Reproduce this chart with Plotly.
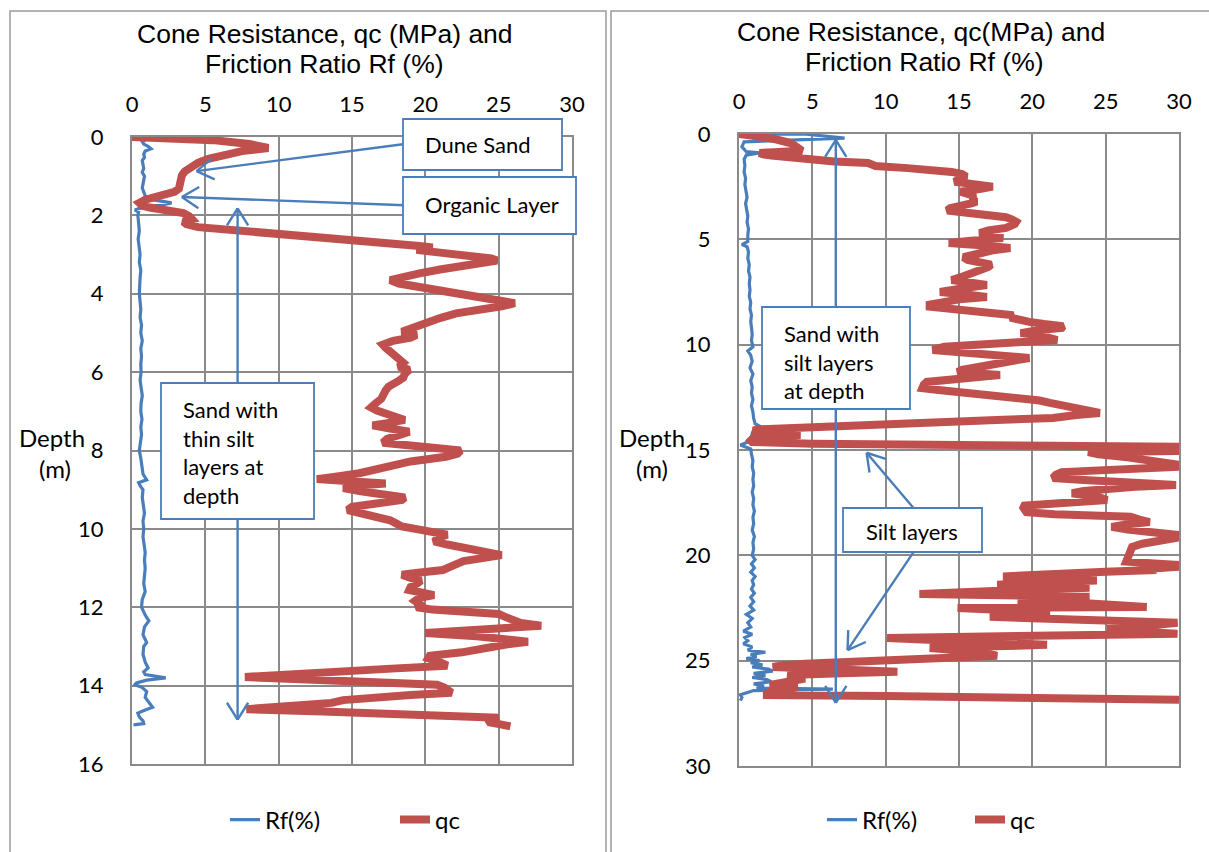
import math
import plotly.graph_objects as go

# ---------------- data ----------------
left_qc_depth = [0.00, 0.03, 0.08, 0.18, 0.28, 0.36, 0.46, 0.56, 0.66, 0.76, 0.88, 0.98, 1.10, 1.22, 1.32, 1.40,
                 1.47, 1.53, 1.60, 1.68, 1.75, 1.80, 1.86, 1.94, 2.02, 2.10, 2.16, 2.22, 2.30, 2.40, 2.50, 2.60,
                 2.70, 2.78, 2.82, 2.88, 2.95, 3.02, 3.10, 3.15, 3.22, 3.28, 3.38, 3.48, 3.57, 3.65, 3.74, 3.82,
                 3.92, 4.02, 4.10, 4.18, 4.24, 4.32, 4.40, 4.50, 4.62, 4.75, 4.88, 4.97, 5.05, 5.12, 5.20, 5.30,
                 5.38, 5.48, 5.56, 5.66, 5.76, 5.86, 5.94, 6.04, 6.14, 6.22, 6.30, 6.37, 6.46, 6.58, 6.68, 6.80,
                 6.90, 6.98, 7.06, 7.15, 7.22, 7.30, 7.36, 7.44, 7.52, 7.60, 7.70, 7.80, 7.86, 7.92, 8.00, 8.08,
                 8.16, 8.28, 8.40, 8.50, 8.58, 8.66, 8.73, 8.78, 8.84, 8.90, 8.96, 9.04, 9.12, 9.20, 9.26, 9.34,
                 9.44, 9.52, 9.60, 9.70, 9.78, 9.86, 9.94, 10.02, 10.10, 10.15, 10.22, 10.32, 10.40, 10.50, 10.60,
                 10.67, 10.74, 10.82, 10.95, 11.05, 11.12, 11.17, 11.25, 11.32, 11.38, 11.48, 11.56, 11.62, 11.69,
                 11.76, 11.84, 11.92, 12.00, 12.06, 12.12, 12.17, 12.24, 12.32, 12.40, 12.47, 12.54, 12.60, 12.66,
                 12.74, 12.82, 12.88, 12.95, 13.05, 13.15, 13.24, 13.30, 13.40, 13.49, 13.56, 13.62, 13.70, 13.78,
                 13.84, 13.90, 13.98, 14.05, 14.12, 14.18, 14.24, 14.30, 14.37, 14.44, 14.50, 14.56, 14.60, 14.66,
                 14.72, 14.78, 14.82, 14.88, 14.94, 15.00, 15.04]
left_qc = [0.0, 2.5, 5.5, 8.0, 9.3, 7.5, 6.0, 5.2, 4.5, 4.0, 3.6, 3.4, 3.3, 3.3, 3.2, 2.9,
           2.1, 1.4, 0.9, 0.5, 0.7, 1.2, 2.6, 3.5, 3.9, 4.1, 3.5, 3.7, 4.5, 8.0, 11.5, 14.5,
           17.5, 19.6, 20.5, 19.4, 21.0, 23.0, 24.5, 24.9, 23.5, 22.5, 21.0, 19.6, 18.2, 17.6, 18.2, 19.5,
           21.0, 22.5, 24.0, 25.5, 26.1, 25.2, 23.8, 22.1, 21.0, 20.0, 19.0, 18.4, 19.4, 19.0, 17.8, 17.1,
           17.3, 17.6, 17.9, 18.3, 18.5, 18.2, 18.9, 18.6, 18.5, 18.2, 17.8, 17.5, 17.3, 17.2, 17.0, 16.6,
           16.3, 16.7, 17.4, 18.3, 18.6, 17.4, 16.4, 17.6, 18.9, 18.3, 17.4, 17.1, 19.0, 21.2, 22.4, 22.2,
           21.4, 19.0, 17.6, 16.6, 15.5, 14.0, 12.6, 14.6, 17.3, 15.2, 14.4, 15.6, 17.5, 18.6, 18.4, 16.6,
           15.0, 14.7, 15.6, 17.1, 17.6, 18.0, 18.4, 19.6, 21.0, 21.5, 20.9, 20.6, 21.5, 23.0, 24.5,
           25.2, 24.0, 22.6, 21.8, 21.2, 19.5, 18.4, 19.0, 19.7, 19.5, 19.0, 18.9, 19.8, 20.6,
           19.6, 19.3, 19.6, 19.4, 20.5, 23.5, 25.0, 25.4, 26.0, 26.5, 27.9, 25.0, 21.5, 20.0,
           23.5, 26.5, 27.0, 25.5, 24.1, 22.5, 20.3, 20.2, 21.0, 21.5, 18.0, 14.7, 11.0, 7.7,
           11.5, 17.0, 20.8, 21.3, 21.5, 21.8, 19.0, 16.5, 14.4, 13.6, 11.5, 9.0, 7.8, 13.0,
           19.5, 24.0, 25.0, 24.3, 24.4, 25.3, 25.8]

left_rf_depth = [0.00, 0.04, 0.08, 0.12, 0.18, 0.24, 0.30, 0.36, 0.44, 0.52, 0.60, 0.70, 0.80, 0.90, 1.00, 1.10,
                 1.20, 1.30, 1.40, 1.50, 1.58, 1.64, 1.68, 1.72, 1.77, 1.82, 1.86, 1.92, 2.00, 2.2, 2.4, 2.6,
                 2.8, 3.0, 3.2, 3.4, 3.6, 3.8, 4.0, 4.2, 4.4, 4.6, 4.8, 5.0, 5.2, 5.4, 5.6, 5.8, 6.0, 6.2,
                 6.4, 6.6, 6.8, 7.0, 7.2, 7.4, 7.6, 7.8, 8.0, 8.2, 8.4, 8.6, 8.75, 8.82, 8.9, 9.0, 9.2, 9.4,
                 9.6, 9.8, 10.0, 10.2, 10.4, 10.6, 10.8, 11.0, 11.2, 11.4, 11.6, 11.8, 12.0, 12.2, 12.35, 12.5,
                 12.7, 12.9, 13.0, 13.2, 13.4, 13.55, 13.65, 13.72, 13.8, 13.86, 13.93, 13.98, 14.05, 14.15,
                 14.3, 14.45, 14.55, 14.62, 14.7, 14.8, 14.9, 14.97, 15.0]
left_rf = [0.0, 0.6, 0.9, 0.7, 0.8, 1.1, 1.3, 0.9, 0.8, 0.85, 0.7, 0.75, 0.8, 0.7, 0.85, 0.8,
           0.75, 0.7, 0.8, 0.9, 1.1, 1.9, 2.7, 2.2, 1.2, 0.5, 0.2, 0.45, 0.4, 0.45, 0.5, 0.42,
           0.5, 0.55, 0.5, 0.6, 0.55, 0.5, 0.5, 0.55, 0.6, 0.55, 0.65, 0.6, 0.7, 0.6, 0.65, 0.6, 0.62, 0.55,
           0.6, 0.7, 0.62, 0.6, 0.68, 0.6, 0.65, 0.6, 0.5, 0.6, 0.65, 0.75, 1.0, 0.45, 0.55, 0.75, 0.7, 0.8,
           0.85, 0.75, 0.8, 0.75, 0.8, 0.9, 0.85, 0.9, 0.85, 0.8, 0.9, 0.7, 0.65, 0.9, 1.15, 0.85,
           0.75, 1.0, 0.8, 0.75, 0.9, 1.1, 0.8, 0.9, 2.3, 1.0, 0.3, 0.2, 0.7, 1.0,
           0.9, 1.2, 1.4, 0.9, 0.4, 0.5, 0.75, 0.8, 0.1]

right_qc_depth = [0.00, 0.06, 0.14, 0.25, 0.35, 0.43, 0.55, 0.67, 0.80, 0.85, 0.90, 0.96, 1.02, 1.12, 1.23, 1.30,
                  1.38, 1.45, 1.52, 1.62, 1.72, 1.80, 1.90, 2.03, 2.15, 2.27, 2.38, 2.50, 2.60, 2.74, 2.85, 2.97,
                  3.10, 3.20, 3.28, 3.40, 3.52, 3.63, 3.74, 3.84, 3.95, 4.05, 4.17, 4.28, 4.38, 4.46, 4.58, 4.70,
                  4.82, 4.94, 5.05, 5.17, 5.28, 5.41, 5.52, 5.65, 5.75, 5.85, 5.98, 6.10, 6.20, 6.31, 6.45, 6.60,
                  6.75, 6.93, 7.05, 7.17, 7.30, 7.42, 7.50, 7.62, 7.74, 7.85, 7.98, 8.10, 8.20, 8.32, 8.42, 8.50,
                  8.60, 8.72, 8.82, 8.92, 9.02, 9.12, 9.20, 9.30, 9.38, 9.45, 9.55, 9.65, 9.78, 9.88, 9.98, 10.10,
                  10.25, 10.38, 10.50, 10.63, 10.75, 10.85, 10.96, 11.08, 11.20, 11.30, 11.38, 11.44, 11.52, 11.62,
                  11.70, 11.77, 11.90, 12.06, 12.15, 12.24, 12.35, 12.45, 12.53, 12.65, 12.76, 12.86, 12.95, 13.05,
                  13.15, 13.24, 13.34, 13.42, 13.48, 13.56, 13.64, 13.72, 13.81, 13.86, 13.90, 13.96, 14.02, 14.07,
                  14.15, 14.22, 14.29, 14.34, 14.40, 14.48, 14.55, 14.62, 14.70, 14.76, 14.80, 14.85, 14.95, 15.05,
                  15.10, 15.20, 15.35, 15.55, 15.70, 15.80, 15.88, 15.95, 16.05, 16.18, 16.33, 16.42, 16.50, 16.58,
                  16.66, 16.75, 16.85, 16.95, 17.05, 17.15, 17.25, 17.37, 17.45, 17.55, 17.65, 17.75, 17.85, 17.95,
                  18.05, 18.12, 18.17, 18.30, 18.42, 18.52, 18.65, 18.78, 18.90, 19.03, 19.17, 19.30, 19.45, 19.60,
                  19.74, 19.89, 20.05, 20.20, 20.30, 20.45, 20.55, 20.62, 20.70, 20.78, 20.86, 20.93, 21.00, 21.08,
                  21.15, 21.20, 21.28, 21.35, 21.40, 21.47, 21.54, 21.62, 21.70, 21.78, 21.83, 21.90, 21.97, 22.05,
                  22.12, 22.20, 22.30, 22.38, 22.45, 22.48, 22.50, 22.56, 22.62, 22.68, 22.73, 22.80, 22.86, 22.92,
                  23.00, 23.08, 23.14, 23.20, 23.30, 23.40, 23.50, 23.58, 23.66, 23.72, 23.78, 23.84, 23.92, 24.00,
                  24.08, 24.15, 24.25, 24.32, 24.40, 24.48, 24.56, 24.65, 24.77, 24.85, 24.95, 25.05, 25.15, 25.22,
                  25.30, 25.38, 25.45, 25.53, 25.60, 25.68, 25.76, 25.85, 25.95, 26.05, 26.15, 26.25, 26.33, 26.40,
                  26.48, 26.58, 26.63, 26.68, 26.72, 26.77, 26.85]
right_qc = [0.0, 1.0, 1.6, 2.5, 3.2, 3.5, 3.8, 4.0, 4.3, 2.7, 1.4, 1.6, 2.2, 3.5, 4.6, 6.5,
            8.8, 9.1, 9.3, 11.5, 13.5, 14.5, 15.2, 15.5, 15.0, 14.7, 16.0, 17.3, 16.5, 15.1, 15.6, 16.1,
            15.8, 16.2, 15.9, 15.0, 14.4, 14.2, 15.6, 17.2, 18.2, 18.6, 18.9, 18.8, 18.5, 18.2, 17.0, 16.4,
            17.3, 18.0, 16.0, 14.3, 16.5, 18.5, 17.3, 16.2, 15.6, 15.3, 15.6, 16.6, 17.2, 17.0, 16.5, 16.2,
            15.3, 14.5, 15.8, 16.9, 15.5, 14.2, 13.7, 15.5, 16.9, 15.0, 13.6, 13.0, 13.0, 15.0, 17.0, 18.3,
            18.7, 18.5, 19.0, 19.8, 20.8, 22.1, 22.0, 20.5, 19.5, 19.2, 20.5, 21.3, 21.7, 19.0, 16.5, 14.0,
            13.2, 15.5, 18.0, 19.8, 18.8, 17.8, 17.1, 16.0, 15.2, 14.9, 16.2, 17.8, 16.5, 14.2,
            13.0, 12.8, 12.6, 12.5, 13.6, 14.9, 16.5, 18.2, 19.4, 20.5, 21.2, 21.9, 22.5, 23.5,
            24.2, 24.6, 23.0, 21.9, 21.4, 18.0, 14.5, 12.0, 10.3, 7.0, 4.6, 2.5, 1.2, 1.0,
            1.2, 2.5, 4.2, 2.5, 1.5, 0.9, 0.8, 0.9, 5.0, 15.0, 25.0, 30.0, 30.0, 30.0,
            23.8, 24.5, 26.5, 28.5, 30.0, 30.0, 26.0, 23.0, 22.0, 21.6, 21.4, 23.5, 26.5, 29.8,
            29.8, 27.0, 24.6, 23.5, 22.7, 23.8, 24.6, 25.1, 23.0, 20.5, 19.3, 19.4, 19.5, 19.6,
            21.5, 24.5, 26.7, 27.3, 28.0, 26.5, 25.4, 26.5, 28.0, 29.9, 29.8, 28.5, 27.5, 26.8,
            26.7, 26.7, 26.5, 26.4, 26.4, 29.9, 29.9, 28.2, 28.2, 25.0, 22.1, 19.5, 18.0, 20.5,
            23.0, 24.4, 21.0, 18.5, 17.6, 20.5, 23.9, 20.0, 16.5, 13.5, 12.3, 18.0, 23.9, 21.5,
            19.0, 22.0, 25.5, 27.0, 27.8, 20.5, 14.9, 16.8, 19.0, 20.5, 21.2, 19.5, 18.0, 17.1,
            20.5, 24.5, 27.5, 29.9, 28.5, 26.5, 25.1, 26.0, 28.0, 29.9, 24.0, 17.0, 10.1, 12.5,
            15.8, 18.5, 21.0, 17.5, 13.0, 14.5, 15.8, 16.8, 17.6, 14.0, 10.0, 7.0, 4.5, 3.0,
            2.3, 5.5, 8.5, 10.8, 7.0, 3.3, 3.8, 4.5, 3.5, 2.8, 2.1, 4.0, 3.0, 2.2,
            2.1, 1.9, 1.9, 10.0, 20.0, 29.9, 30.0]

right_rf_depth = [0.00, 0.01, 0.20, 0.37, 0.60, 0.84, 0.90, 1.00, 1.2, 1.5, 1.8, 2.1, 2.4, 2.7, 3.0, 3.3,
                  3.6, 3.9, 4.2, 4.5, 4.8, 5.1, 5.25, 5.35, 5.6, 5.9, 6.2, 6.5, 6.8, 7.1, 7.4, 7.7, 8.0,
                  8.3, 8.6, 8.9, 9.2, 9.5, 9.8, 10.1, 10.3, 10.5, 10.8, 11.1, 11.4, 11.7, 12.0, 12.3, 12.6,
                  12.9, 13.2, 13.5, 13.75, 13.9, 13.98, 14.05, 14.2, 14.4, 14.6, 14.76, 14.85, 14.95, 15.2,
                  15.5, 15.8, 16.1, 16.4, 16.7, 17.0, 17.3, 17.6, 17.9, 18.2, 18.5, 18.8, 19.1, 19.4, 19.7,
                  20.0, 20.2, 20.4, 20.6, 20.8, 21.0, 21.2, 21.4, 21.6, 21.8, 22.0, 22.2, 22.4, 22.6, 22.8,
                  23.0, 23.2, 23.4, 23.6, 23.75, 23.9, 24.05, 24.2, 24.35, 24.5, 24.6, 24.7, 24.8, 24.9,
                  25.0, 25.1, 25.2, 25.3, 25.4, 25.5, 25.6, 25.7, 25.8, 25.9, 26.0, 26.1, 26.2, 26.3,
                  26.35, 26.42, 26.55, 26.62, 26.75, 26.85, 26.9]
right_rf = [0.0, 4.6, 7.2, 0.35, 0.2, 0.5, 1.4, 0.5, 0.35, 0.4, 0.35, 0.45, 0.4, 0.5, 0.55, 0.45,
            0.55, 0.6, 0.55, 0.65, 0.6, 0.6, 0.2, 0.55, 0.65, 0.6, 0.7, 0.65, 0.75, 0.7, 0.75, 0.7, 0.8,
            0.75, 0.85, 0.8, 0.85, 0.9, 0.85, 0.95, 0.6, 0.8, 0.9, 0.75, 0.95, 0.8, 0.9, 0.85, 0.95,
            0.85, 0.95, 1.0, 1.1, 1.5, 2.2, 1.0, 0.9, 0.85, 0.7, 0.1, 0.4, 0.8, 0.85,
            0.95, 0.9, 1.0, 0.95, 1.0, 0.9, 1.0, 0.95, 1.05, 0.95, 1.0, 0.9, 1.05, 0.95, 1.0,
            0.9, 1.1, 0.85, 1.05, 0.8, 1.1, 0.9, 1.0, 0.85, 1.05, 0.8, 1.0, 0.75, 1.0, 0.5,
            0.9, 0.6, 0.8, 0.3, 0.9, 0.4, 0.6, 0.3, 0.9, 0.6, 1.8, 0.8, 1.2, 0.5,
            1.4, 0.8, 1.6, 0.9, 2.0, 2.3, 1.0, 1.8, 0.9, 1.9, 2.2, 1.0, 1.7, 1.2,
            6.4, 1.0, 0.3, 0.1, 0.2, 0.1, 0.1]

x_ticks = [0, 5, 10, 15, 20, 25, 30]
left_depth_ticks = [0, 2, 4, 6, 8, 10, 12, 14, 16]
right_depth_ticks = [0, 5, 10, 15, 20, 25, 30]

# ---------------- geometry / style ----------------
W, H = 1209, 852
BLUE = '#4A7EBB'
RED = '#C0504D'
GRID = '#8A8A8A'
BORDER = '#9A9A9A'
TXT = 'Lato, Carlito, Calibri, sans-serif'
TTL = 'Liberation Sans, Arial, sans-serif'

PL = dict(x0=132, x1=572, y0=137, y1=764, vmax=30.0, dmax=16.0)
PR = dict(x0=739, x1=1179, y0=134, y1=766, vmax=30.0, dmax=30.0)


def to_px(p, v, d):
    return (p['x0'] + v / p['vmax'] * (p['x1'] - p['x0']),
            p['y0'] + d / p['dmax'] * (p['y1'] - p['y0']))


fig = go.Figure()
fig.add_trace(go.Scatter(x=left_rf, y=left_rf_depth, mode='lines', name='Rf(%)',
                         line=dict(color=BLUE, width=3.2), xaxis='x', yaxis='y', legend='legend'))
fig.add_trace(go.Scatter(x=left_qc, y=left_qc_depth, mode='lines', name='qc',
                         line=dict(color=RED, width=8), xaxis='x', yaxis='y', legend='legend'))
fig.add_trace(go.Scatter(x=right_rf, y=right_rf_depth, mode='lines', name='Rf(%)',
                         line=dict(color=BLUE, width=3.2), xaxis='x2', yaxis='y2', legend='legend2'))
fig.add_trace(go.Scatter(x=right_qc, y=right_qc_depth, mode='lines', name='qc',
                         line=dict(color=RED, width=8), xaxis='x2', yaxis='y2', legend='legend2'))


def xax(p):
    return dict(domain=[p['x0'] / W, p['x1'] / W], range=[0, 30], tickvals=x_ticks,
                side='top', showgrid=True, gridcolor=GRID, gridwidth=2, showline=True,
                linecolor=GRID, linewidth=2, mirror=True, zeroline=False, ticks='',
                ticklabelstandoff=14, tickfont=dict(family=TXT, size=22, color='black'),
                layer='below traces', fixedrange=True, automargin=False)


def yax(p, ticks, xa):
    return dict(domain=[1 - p['y1'] / H, 1 - p['y0'] / H], range=[p['dmax'], 0], tickvals=ticks,
                showgrid=True, gridcolor=GRID, gridwidth=2, showline=True, linecolor=GRID,
                linewidth=2, mirror=True, zeroline=False, ticks='', anchor=xa,
                ticklabelstandoff=22, tickfont=dict(family=TXT, size=22, color='black'),
                layer='below traces', fixedrange=True, automargin=False)


shapes = []
annotations = []


def pshape_line(X0, Y0, X1, Y1, color=BLUE, width=2.4):
    shapes.append(dict(type='line', xref='paper', yref='paper', x0=X0 / W, y0=1 - Y0 / H,
                       x1=X1 / W, y1=1 - Y1 / H, line=dict(color=color, width=width), layer='above'))


def vhead(tip, frm, length=20, ang=32):
    ux, uy = tip[0] - frm[0], tip[1] - frm[1]
    n = math.hypot(ux, uy)
    ux, uy = ux / n, uy / n
    for s in (1, -1):
        a = math.radians(ang) * s
        rx = ux * math.cos(a) - uy * math.sin(a)
        ry = ux * math.sin(a) + uy * math.cos(a)
        pshape_line(tip[0], tip[1], tip[0] - rx * length, tip[1] - ry * length)


def arrow(p, tail, head, both=False):
    T = to_px(p, *tail)
    Hd = to_px(p, *head)
    pshape_line(T[0], T[1], Hd[0], Hd[1])
    vhead(Hd, T)
    if both:
        vhead(T, Hd)


def box(X0, Y0, X1, Y1):
    shapes.append(dict(type='rect', xref='paper', yref='paper', x0=X0 / W, x1=X1 / W,
                       y0=1 - Y1 / H, y1=1 - Y0 / H, fillcolor='white',
                       line=dict(color=BLUE, width=1.8), layer='above'))


def text(X, Y, s, size=22, family=TXT, xanchor='left'):
    annotations.append(dict(x=X / W, y=1 - Y / H, xref='paper', yref='paper', text=s,
                            showarrow=False, xanchor=xanchor, yanchor='middle', align=xanchor,
                            font=dict(family=family, size=size, color='black')))


# panel frames
shapes.append(dict(type='rect', xref='paper', yref='paper', x0=10 / W, x1=606 / W, y0=-0.1,
                   y1=1 - 11 / H, line=dict(color=BORDER, width=1.5), layer='below'))
shapes.append(dict(type='rect', xref='paper', yref='paper', x0=611 / W, x1=1.02, y0=-0.1,
                   y1=1 - 11 / H, line=dict(color=BORDER, width=1.5), layer='below'))

# left panel arrows (data coordinates)
arrow(PL, (18.6, 0.18), (4.4, 0.87))          # Dune Sand
arrow(PL, (18.6, 1.74), (3.4, 1.53))          # Organic layer
arrow(PL, (7.2, 1.82), (7.2, 14.87), both=True)
# right panel arrows
arrow(PR, (6.6, 0.28), (6.6, 27.0), both=True)
arrow(PR, (11.9, 17.75), (8.7, 15.13))        # silt layers up
arrow(PR, (11.9, 19.85), (7.4, 24.5))         # silt layers down

# text boxes
box(403, 119, 562, 170)
text(423, 144, 'Dune Sand')
box(403, 177, 576, 234)
text(423, 205, 'Organic Layer')
box(161, 383, 314, 519)
text(181, 453, 'Sand with<br>thin silt<br>layers at<br>depth')
box(762, 307, 910, 409)
text(782, 362, 'Sand with<br>silt layers<br>at depth')
box(843, 508, 982, 552)
text(912, 531, 'Silt layers', xanchor='center')

# titles
text(324.5, 34, 'Cone Resistance, qc (MPa) and', size=26.5, family=TTL, xanchor='center')
text(324.5, 64, 'Friction Ratio Rf (%)', size=26.5, family=TTL, xanchor='center')
text(921, 32, 'Cone Resistance, qc(MPa) and', size=26.5, family=TTL, xanchor='center')
text(924, 62, 'Friction Ratio Rf (%)', size=26.5, family=TTL, xanchor='center')

# axis titles
text(52, 437, 'Depth', size=24, xanchor='center')
text(55, 468, '(m)', size=24, xanchor='center')
text(652, 437, 'Depth', size=24, xanchor='center')
text(652, 468, '(m)', size=24, xanchor='center')

fig.update_layout(
    width=W, height=H, margin=dict(l=0, r=0, t=0, b=0, pad=0, autoexpand=False),
    paper_bgcolor='white', plot_bgcolor='white',
    xaxis=dict(xax(PL), anchor='y'),
    yaxis=yax(PL, left_depth_ticks, 'x'),
    xaxis2=dict(xax(PR), anchor='y2'),
    yaxis2=yax(PR, right_depth_ticks, 'x2'),
    legend=dict(x=225 / W, xanchor='left', y=1 - 820 / H, yanchor='middle', orientation='h',
                font=dict(family=TXT, size=24, color='black'), bgcolor='rgba(0,0,0,0)',
                entrywidth=125, borderwidth=0),
    legend2=dict(x=822 / W, xanchor='left', y=1 - 820 / H, yanchor='middle', orientation='h',
                 font=dict(family=TXT, size=24, color='black'), bgcolor='rgba(0,0,0,0)',
                 entrywidth=103, borderwidth=0),
    shapes=shapes, annotations=annotations,
)

fig.write_html('out.html', config=dict(displayModeBar=False))
